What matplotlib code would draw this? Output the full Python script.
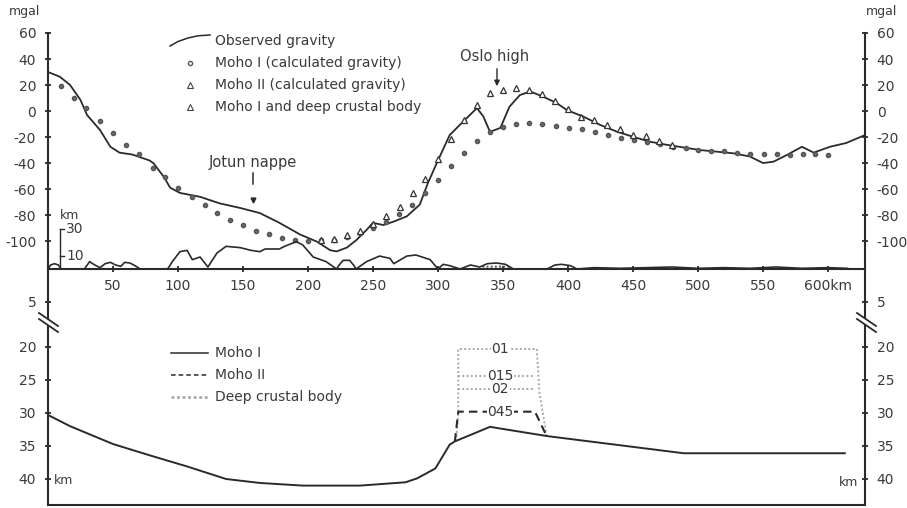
import matplotlib
matplotlib.use("Agg")
import matplotlib.pyplot as plt
from matplotlib.lines import Line2D
from matplotlib.patches import Polygon, FancyArrowPatch

W, H = 907, 508

# observed gravity profile (distance km, mgal)
obs_km = [0, 9, 17, 25, 30, 40, 48, 55, 65, 78, 81, 89, 94, 101.5, 117, 132, 148, 163,
          178, 194, 207, 217, 222, 230, 237.5, 245, 250, 258, 266, 276, 286, 292, 300,
          309, 319.5, 330, 335, 340, 348, 355, 363, 371, 381, 391.5, 399, 412, 425, 438,
          450, 463, 476, 501.5, 527, 540, 550, 558, 568, 580, 589, 601.5, 614, 628.5]
obs_mgal = [30, 26.4, 20, 8.5, -3, -14.6, -27.5, -32, -33.5, -38, -40, -50.5, -59, -63, -66,
            -71, -74.6, -78.5, -86, -95, -100.5, -107, -108, -105, -99, -91.5, -86, -87.7,
            -85, -81, -72, -56, -38, -18.5, -8, 2.3, -4.4, -16, -13, 3.3, 12.3, 15, 11, 6,
            0.8, -4.4, -10.8, -16, -19.8, -23.6, -26, -30, -32.5, -35, -40, -39, -34, -27.5,
            -32, -27.5, -24.6, -18.5]

# Moho I calculated gravity
moho1_km = [10, 20, 29, 40, 50, 60, 70, 81, 90, 100, 111, 121, 130, 140, 150, 160, 170, 180,
            190, 200, 210, 220, 230, 240, 250, 260, 270, 280, 290, 300, 310, 320, 330, 340,
            350, 360, 370, 380, 391, 401, 411, 421, 431, 441, 451, 461, 471, 481, 491, 500,
            510, 520, 530, 540, 551, 561, 571, 581, 590, 600]
moho1_mgal = [19.2, 10.2, 2.3, -7.5, -17, -26, -33, -43.6, -51, -59, -66, -72.3, -78.7, -84,
              -88, -92.3, -94.8, -97.5, -99, -100, -99.5, -99, -97, -94, -90, -85, -79, -72,
              -63, -53, -42.3, -32, -23, -16, -12.5, -10, -9.5, -10, -11.5, -13.3, -14, -16,
              -18.5, -20.6, -22, -23.7, -25, -27.4, -28.7, -30, -30.5, -31, -32, -33, -33,
              -33, -34, -33, -33, -34]

# Moho II calculated gravity
moho2_km = [210, 220, 230, 240, 250, 260, 271, 281, 290, 300, 310, 320, 330, 370, 380, 390,
            400, 410, 420, 430, 440, 450, 460, 470, 480]
moho2_mgal = [-99, -98.7, -95, -92, -87, -81, -73.6, -63, -52, -37, -21.8, -7, 4.6, 16, 13,
              7.7, 1.3, -4.5, -7, -11, -14, -18.3, -19, -23, -26]

# Moho I and deep crustal body
body_km = [340, 350, 360]
body_mgal = [14, 16, 18]

# topography (km, scale units)
topo_km = [0, 2, 5, 8, 10, 28, 32, 36, 40, 44, 48, 52, 56, 59, 63, 66, 71, 92, 96, 101.5,
           107, 111, 117, 123, 130, 137, 148, 156, 163, 167, 178, 182, 191, 196, 204, 214,
           222, 224, 227, 232, 235, 237, 245, 255, 263, 266, 276, 283, 294, 300, 304, 309,
           317, 325, 332, 338, 345, 352, 358, 384, 390, 395, 402, 407, 420, 440, 460, 480,
           500, 520, 540, 560, 580, 600, 615]
topo_h = [0, 3, 4, 3, 0, 0, 5.5, 3, 1, 4, 5, 3, 2, 5, 4.5, 3, 0, 0, 6, 13, 14, 7, 9, 1.5,
          12, 17, 16, 14, 13, 15, 15, 17, 20.5, 18, 9, 5.5, 0, 3, 6.5, 6.5, 3, 0, 5.5, 9.7,
          8, 4, 9.7, 10.5, 7, 0, 3.5, 2.5, 0, 3, 1.5, 4, 4.5, 3.5, 0, 0, 3, 3.5, 2.5, 0, 1,
          0.5, 1, 1.5, 0.5, 1, 0.5, 1.5, 0.5, 1, 0.5]

# crustal section (depth km)
mohoI_km = [0, 17, 50, 78, 107, 137, 163, 196, 240, 275, 284, 298, 309, 313, 340, 384, 489, 613]
mohoI_depth = [30.3, 32, 34.7, 36.4, 38.1, 40, 40.6, 41, 41, 40.5, 39.9, 38.4, 34.8, 34.3,
               32.1, 33.5, 36.1, 36.1]
mohoII_km = [313, 315.6, 374.6, 383.6]
mohoII_depth = [34.3, 29.8, 29.8, 33.5]
body_outline_km = [314, 315.6, 315.6, 376, 378, 383.6]
body_outline_depth = [34.3, 30, 20.3, 20.3, 26.8, 33.5]
body_tops = [24.4, 26.3]
body_tops_right = [375, 374.6]
density_labels = ["01", "015", "02", "045"]
density_depths = [20.3, 24.4, 26.3, 29.8]

ink = '#2a2a2a'
txt = '#3a3a3a'
grey = '#a8a8a8'
plt.rcParams['font.family'] = 'DejaVu Sans'
plt.rcParams['font.size'] = 10
plt.rcParams['axes.unicode_minus'] = False


def rect(x0, y0, x1, y1):
    return [x0 / W, 1 - y1 / H, (x1 - x0) / W, (y1 - y0) / H]


def fx(px):
    return [p / W for p in px]


def fy(py):
    return [1 - p / H for p in py]


def style(ax, sides):
    for s in ['top', 'bottom', 'left', 'right']:
        ax.spines[s].set_visible(s in sides)
        ax.spines[s].set_color(ink)
        ax.spines[s].set_linewidth(1.5)
    ax.patch.set_alpha(0)
    ax.tick_params(direction='inout', length=5, width=1.3, colors=ink,
                   labelcolor=txt, labelsize=10, pad=6)


fig = plt.figure(figsize=(W / 100, H / 100), dpi=100)

# gravity panel
ax = fig.add_axes(rect(48, 33, 865, 269))
style(ax, ['left', 'right', 'bottom'])
ax.set_xlim(0, 628.5)
ax.set_ylim(-121.5, 60)
ax.set_yticks(range(-100, 61, 20))
ax.tick_params(axis='y', left=True, right=True, labelleft=True, labelright=True)
ax.set_xticks(range(50, 601, 50))
ax.set_xticklabels([str(v) for v in range(50, 551, 50)] + ['600km'])
ax.tick_params(axis='x', pad=5)

ax.plot(obs_km, obs_mgal, color=ink, lw=1.3, zorder=3)
ax.plot(moho1_km, moho1_mgal, 'o', ms=3, color='#6a6a6a', mec='#555555', zorder=4)
ax.plot(moho2_km, moho2_mgal, '^', ms=4.5, mfc='white', mec='#333333', mew=0.9, zorder=5)
ax.plot(body_km, body_mgal, '^', ms=4.5, mfc='white', mec='#333333', mew=0.9, zorder=5)

# topography strip
axt = fig.add_axes(rect(48, 33, 865, 269))
axt.set_xlim(0, 628.5)
axt.set_ylim(0, 177)
axt.axis('off')
axt.plot(topo_km, topo_h, color=ink, lw=1.2)
stip = [i for i, k in enumerate(topo_km) if 332 <= k <= 358]
axt.fill_between([topo_km[i] for i in stip], 0, [topo_h[i] for i in stip],
                 facecolor='none', edgecolor='#555555', hatch='....', lw=0)
axt.plot([9.5, 9.5], [0, 30], color=ink, lw=1)
for v in (10, 30):
    axt.plot([9.5, 12], [v, v], color=ink, lw=1)
    axt.text(14, v, str(v), fontsize=10, color=txt, va='center', ha='left')
axt.text(9, 40, 'km', fontsize=9, color=txt, va='center', ha='left')

# crust section, shallow part above the break
axs = fig.add_axes(rect(48, 269, 865, 320))
style(axs, ['left', 'right'])
axs.set_xlim(0, 628.5)
axs.set_ylim(7.73, 0)
axs.set_xticks([])
axs.set_yticks([5])
axs.tick_params(axis='y', left=True, right=True, labelleft=True, labelright=True)

# crust section, deep part
axd = fig.add_axes(rect(48, 320, 865, 505))
style(axd, ['left', 'right', 'bottom'])
axd.set_xlim(0, 628.5)
axd.set_ylim(43.94, 15.91)
axd.set_xticks([])
axd.set_yticks(range(20, 41, 5))
axd.tick_params(axis='y', left=True, right=True, labelleft=True, labelright=True)

axd.plot(mohoI_km, mohoI_depth, color=ink, lw=1.4, zorder=4)
axd.plot(body_outline_km, body_outline_depth, color=grey, lw=1.4, ls=(0, (1, 1.2)), zorder=2)
for d, xr in zip(body_tops, body_tops_right):
    axd.plot([315.6, xr], [d, d], color=grey, lw=1.4, ls=(0, (1, 1.2)), zorder=2)
axd.plot(mohoII_km, mohoII_depth, color=ink, lw=1.5, ls=(0, (4, 2.5)), zorder=3)
for lab, d in zip(density_labels, density_depths):
    axd.text(348, d, lab, fontsize=10, color=txt, ha='center', va='center', zorder=5,
             bbox=dict(facecolor='white', edgecolor='none', pad=0.5))

# axis break marks
for x0, x1 in ((39, 58), (857, 876)):
    fig.add_artist(Polygon(list(zip(fx([x0, x1, x1, x0]), fy([313, 326, 332, 319]))),
                           closed=True, facecolor='white', edgecolor='none',
                           transform=fig.transFigure))
    for dy in (0, 6):
        fig.add_artist(Line2D(fx([x0, x1]), fy([313 + dy, 326 + dy]), color=ink, lw=1.3,
                              transform=fig.transFigure))

# legends
fig.add_artist(Line2D(fx([170, 178, 188, 198, 210]), fy([46, 41.5, 38, 35.8, 35]),
                      color=ink, lw=1.1, transform=fig.transFigure))
fig.add_artist(Line2D(fx([190]), fy([63]), marker='o', ms=3, mfc='white', mec='#555555',
                      ls='none', transform=fig.transFigure))
for py in (85, 107):
    fig.add_artist(Line2D(fx([190]), fy([py]), marker='^', ms=4, mfc='white', mec='#444444',
                          mew=0.8, ls='none', transform=fig.transFigure))
for py, s in ((41, 'Observed gravity'), (63, 'Moho I (calculated gravity)'),
              (85, 'Moho II (calculated gravity)'), (107, 'Moho I and deep crustal body')):
    fig.text(215 / W, 1 - py / H, s, fontsize=10, color=txt, va='center', ha='left')

fig.add_artist(Line2D(fx([171, 208]), fy([353, 353]), color=ink, lw=1.1,
                      transform=fig.transFigure))
fig.add_artist(Line2D(fx([171, 208]), fy([375, 375]), color=ink, lw=1.1, ls=(0, (3, 2)),
                      transform=fig.transFigure))
fig.add_artist(Line2D(fx([171, 208]), fy([397, 397]), color=grey, lw=2, ls=(0, (1, 1)),
                      transform=fig.transFigure))
for py, s in ((353, 'Moho I'), (375, 'Moho II'), (397, 'Deep crustal body')):
    fig.text(215 / W, 1 - py / H, s, fontsize=10, color=txt, va='center', ha='left')

# annotations
fig.text(25 / W, 1 - 12 / H, 'mgal', fontsize=9, color=txt, ha='center', va='center')
fig.text(882 / W, 1 - 12 / H, 'mgal', fontsize=9, color=txt, ha='center', va='center')
fig.text(64 / W, 1 - 480 / H, 'km', fontsize=9, color=txt, ha='center', va='center')
fig.text(849 / W, 1 - 482 / H, 'km', fontsize=9, color=txt, ha='center', va='center')

fig.text(495 / W, 1 - 57 / H, 'Oslo high', fontsize=10.5, color=txt, ha='center', va='center')
fig.add_artist(FancyArrowPatch((497 / W, 1 - 66 / H), (497 / W, 1 - 89 / H),
                               transform=fig.transFigure, arrowstyle='-|>',
                               mutation_scale=8, color=ink, lw=1))
fig.text(253 / W, 1 - 163 / H, 'Jotun nappe', fontsize=10.5, color=txt, ha='center',
         va='center')
fig.add_artist(Line2D(fx([252.7, 252.7]), fy([173, 184]), color=ink, lw=1.1,
                      transform=fig.transFigure))
fig.add_artist(Line2D(fx([252.7]), fy([200]), marker='v', ms=3.5, color=ink, ls='none',
                      transform=fig.transFigure))

fig.savefig('out.png', dpi=100)
